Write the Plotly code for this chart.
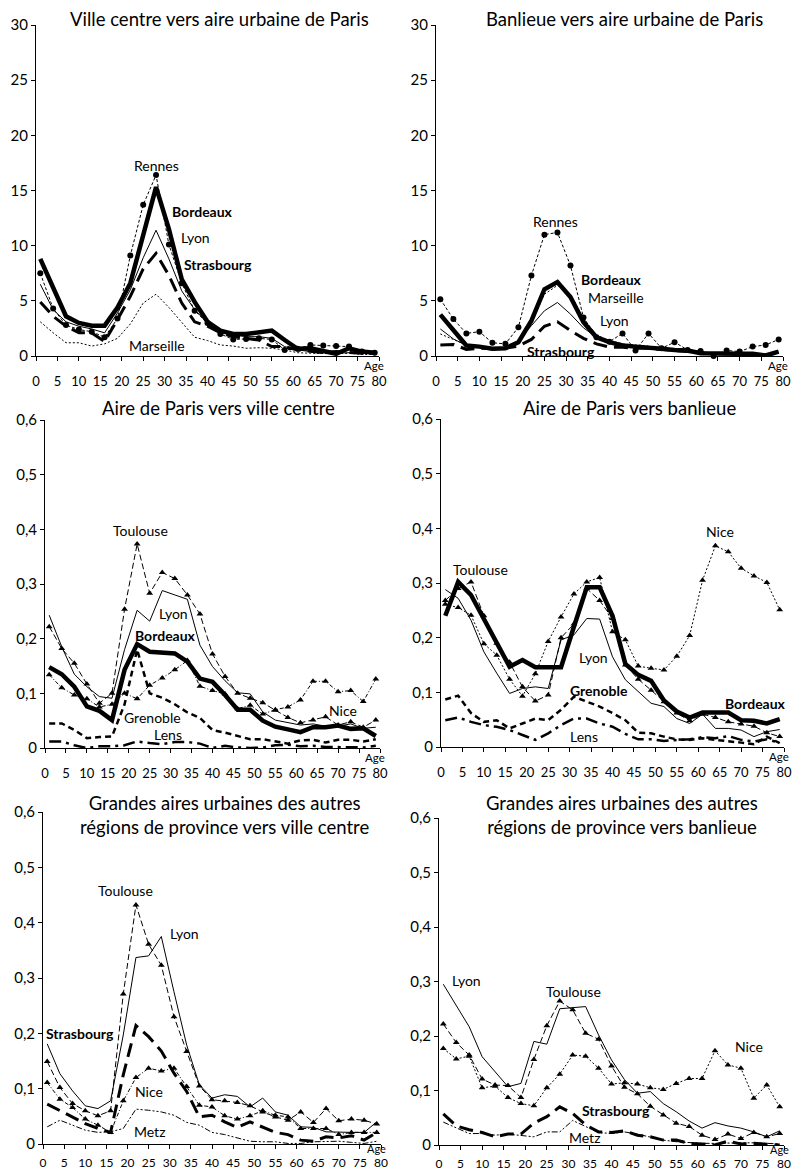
import plotly.graph_objects as go

# ---------------- data ----------------
ages = [1, 4, 7, 10, 13, 16, 19, 22, 25, 28, 31, 34, 37, 40, 43, 46, 49, 52, 55, 58, 61, 64, 67, 70, 73, 76, 79]
x_ticks = [0, 5, 10, 15, 20, 25, 30, 35, 40, 45, 50, 55, 60, 65, 70, 75, 80]
y_ticks_big = [0, 5, 10, 15, 20, 25, 30]
y_ticks_small = [0, 0.1, 0.2, 0.3, 0.4, 0.5, 0.6]
y_ticktext_small = ["0", "0,1", "0,2", "0,3", "0,4", "0,5", "0,6"]

# Panel 1 : Ville centre vers aire urbaine de Paris
p1_rennes = [7.5, 4.3, 2.8, 2.4, 2.2, 1.7, 3.4, 9.1, 13.7, 16.4, 10.1, 6.6, 4.1, 3.0, 2.0, 1.5, 1.55, 1.6, 1.5, 0.55, 0.65, 1.0, 0.95, 0.9, 0.85, 0.4, 0.3]
p1_bordeaux = [8.8, 6.2, 3.6, 3.0, 2.75, 2.75, 4.4, 6.6, 10.8, 15.3, 11.5, 6.95, 4.9, 3.1, 2.3, 2.0, 2.0, 2.15, 2.3, 1.45, 0.65, 0.7, 0.4, 0.2, 0.7, 0.4, 0.3]
p1_lyon = [6.5, 4.2, 3.1, 2.7, 2.45, 2.1, 3.9, 6.0, 8.9, 11.4, 8.8, 5.9, 4.2, 3.0, 2.1, 1.9, 1.75, 1.75, 1.6, 0.85, 0.55, 0.4, 0.3, 0.25, 0.3, 0.25, 0.2]
p1_strasbourg = [4.9, 3.6, 2.7, 2.1, 2.1, 1.3, 3.3, 5.4, 7.9, 9.3, 7.3, 4.8, 3.1, 2.7, 2.1, 1.75, 1.6, 1.45, 0.85, 0.85, 0.55, 0.4, 0.3, 0.4, 0.3, 0.25, 0.25]
p1_marseille = [3.1, 2.1, 1.2, 1.2, 0.9, 1.1, 1.6, 2.9, 4.8, 5.6, 4.4, 3.0, 1.7, 1.4, 1.0, 0.9, 0.7, 0.75, 0.7, 0.55, 0.3, 0.25, 0.2, 0.2, 0.25, 0.15, 0.15]

# Panel 2 : Banlieue vers aire urbaine de Paris
p2_rennes = [5.15, 3.35, 2.05, 2.2, 1.2, 1.1, 2.6, 7.3, 11.0, 11.2, 8.2, 3.5, 1.7, 1.3, 2.05, 0.5, 2.05, 0.7, 1.25, 0.55, 0.45, 0.0, 0.5, 0.4, 0.85, 1.0, 1.5]
p2_bordeaux = [3.75, 2.3, 0.95, 0.85, 0.65, 0.7, 1.25, 3.2, 6.05, 6.7, 5.35, 3.05, 1.7, 1.25, 0.95, 0.85, 0.8, 0.65, 0.55, 0.5, 0.25, 0.2, 0.2, 0.2, 0.2, 0.05, 0.4]
p2_marseille = [2.0, 1.5, 1.0, 0.8, 0.7, 0.8, 1.3, 3.0, 5.6, 6.4, 5.6, 3.4, 1.9, 1.4, 1.1, 1.0, 0.9, 0.7, 0.6, 0.5, 0.3, 0.3, 0.3, 0.2, 0.2, 0.2, 0.3]
p2_lyon = [2.45, 1.55, 0.95, 0.8, 0.65, 0.8, 1.4, 2.75, 4.1, 4.85, 3.8, 2.55, 1.7, 1.25, 0.95, 0.8, 0.7, 0.55, 0.5, 0.35, 0.25, 0.2, 0.25, 0.2, 0.2, 0.1, 0.25]
p2_strasbourg = [1.0, 1.05, 0.6, 0.7, 0.65, 0.7, 0.9, 1.5, 2.7, 3.1, 2.3, 1.6, 1.1, 0.8, 0.8, 0.7, 0.7, 0.6, 0.5, 0.4, 0.3, 0.2, 0.2, 0.2, 0.2, 0.1, 0.3]

# Panel 3 : Aire de Paris vers ville centre
p3_toulouse = [0.222, 0.182, 0.155, 0.117, 0.082, 0.100, 0.254, 0.373, 0.283, 0.321, 0.310, 0.280, 0.245, 0.172, 0.131, 0.100, 0.091, 0.083, 0.069, 0.056, 0.046, 0.051, 0.057, 0.042, 0.048, 0.038, 0.051]
p3_nice = [0.134, 0.110, 0.097, 0.090, 0.075, 0.080, 0.100, 0.090, 0.115, 0.128, 0.143, 0.160, 0.113, 0.105, 0.099, 0.072, 0.078, 0.062, 0.070, 0.075, 0.088, 0.122, 0.122, 0.103, 0.105, 0.085, 0.126]
p3_lyon = [0.243, 0.185, 0.135, 0.112, 0.094, 0.091, 0.180, 0.252, 0.232, 0.288, 0.280, 0.272, 0.188, 0.149, 0.123, 0.101, 0.099, 0.066, 0.051, 0.046, 0.042, 0.044, 0.040, 0.040, 0.044, 0.036, 0.038]
p3_bordeaux = [0.148, 0.135, 0.112, 0.076, 0.068, 0.051, 0.143, 0.190, 0.176, 0.174, 0.173, 0.158, 0.127, 0.121, 0.097, 0.070, 0.070, 0.050, 0.039, 0.034, 0.029, 0.038, 0.038, 0.041, 0.035, 0.036, 0.022]
p3_grenoble = [0.045, 0.045, 0.033, 0.018, 0.020, 0.021, 0.080, 0.180, 0.100, 0.092, 0.080, 0.065, 0.055, 0.033, 0.028, 0.022, 0.016, 0.016, 0.012, 0.008, 0.014, 0.015, 0.010, 0.015, 0.015, 0.012, 0.016]
p3_lens = [0.012, 0.012, 0.005, 0.0, 0.003, 0.003, 0.005, 0.012, 0.009, 0.007, 0.011, 0.011, 0.008, 0.0, 0.004, 0.001, 0.0, 0.001, 0.005, 0.006, 0.003, 0.004, 0.002, 0.002, 0.001, 0.001, 0.004]

# Panel 4 : Aire de Paris vers banlieue
p4_toulouse = [0.268, 0.290, 0.302, 0.240, 0.190, 0.155, 0.110, 0.084, 0.095, 0.200, 0.225, 0.290, 0.268, 0.235, 0.150, 0.124, 0.104, 0.083, 0.062, 0.048, 0.060, 0.054, 0.046, 0.042, 0.038, 0.026, 0.019]
p4_nice = [0.261, 0.255, 0.241, 0.189, 0.168, 0.124, 0.093, 0.134, 0.193, 0.238, 0.280, 0.302, 0.310, 0.211, 0.196, 0.148, 0.144, 0.141, 0.166, 0.204, 0.305, 0.368, 0.357, 0.327, 0.313, 0.301, 0.251]
p4_lyon = [0.288, 0.272, 0.232, 0.174, 0.135, 0.098, 0.107, 0.110, 0.107, 0.196, 0.205, 0.235, 0.234, 0.165, 0.123, 0.101, 0.080, 0.074, 0.052, 0.043, 0.060, 0.034, 0.034, 0.031, 0.019, 0.028, 0.032]
p4_bordeaux = [0.240, 0.302, 0.278, 0.235, 0.193, 0.147, 0.159, 0.146, 0.146, 0.146, 0.220, 0.292, 0.292, 0.240, 0.152, 0.132, 0.121, 0.085, 0.065, 0.054, 0.063, 0.063, 0.063, 0.049, 0.048, 0.043, 0.051]
p4_grenoble = [0.087, 0.094, 0.062, 0.046, 0.049, 0.034, 0.043, 0.052, 0.049, 0.068, 0.092, 0.083, 0.074, 0.062, 0.049, 0.026, 0.025, 0.019, 0.014, 0.013, 0.016, 0.013, 0.011, 0.008, 0.005, 0.019, 0.007]
p4_lens = [0.049, 0.054, 0.046, 0.040, 0.037, 0.031, 0.022, 0.013, 0.025, 0.040, 0.052, 0.052, 0.043, 0.037, 0.024, 0.014, 0.014, 0.011, 0.013, 0.014, 0.018, 0.016, 0.020, 0.013, 0.010, 0.014, 0.008]

# Panel 5 : Grandes aires urbaines des autres régions de province vers ville centre
p5_toulouse = [0.149, 0.102, 0.073, 0.060, 0.051, 0.060, 0.271, 0.432, 0.361, 0.323, 0.230, 0.167, 0.105, 0.080, 0.078, 0.075, 0.069, 0.058, 0.049, 0.043, 0.058, 0.039, 0.064, 0.042, 0.045, 0.043, 0.036]
p5_nice = [0.111, 0.081, 0.066, 0.045, 0.034, 0.021, 0.078, 0.120, 0.137, 0.132, 0.137, 0.104, 0.070, 0.067, 0.051, 0.045, 0.051, 0.060, 0.052, 0.049, 0.028, 0.028, 0.028, 0.017, 0.021, 0.021, 0.021]
p5_lyon = [0.181, 0.127, 0.096, 0.069, 0.064, 0.078, 0.197, 0.337, 0.340, 0.375, 0.275, 0.179, 0.107, 0.083, 0.089, 0.086, 0.067, 0.083, 0.058, 0.052, 0.031, 0.030, 0.022, 0.021, 0.021, 0.021, 0.040]
p5_strasbourg = [0.072, 0.060, 0.048, 0.037, 0.028, 0.021, 0.125, 0.214, 0.194, 0.168, 0.128, 0.095, 0.049, 0.052, 0.040, 0.030, 0.040, 0.030, 0.021, 0.017, 0.007, 0.005, 0.013, 0.011, 0.015, 0.007, 0.021]
p5_metz = [0.031, 0.043, 0.034, 0.025, 0.021, 0.022, 0.028, 0.063, 0.061, 0.058, 0.052, 0.039, 0.034, 0.021, 0.017, 0.011, 0.005, 0.004, 0.004, 0.001, 0.001, 0.004, 0.004, 0.005, 0.003, 0.001, 0.005]

# Panel 6 : Grandes aires urbaines des autres régions de province vers banlieue
p6_lyon = [0.295, 0.257, 0.217, 0.162, 0.135, 0.107, 0.113, 0.190, 0.185, 0.250, 0.252, 0.254, 0.202, 0.156, 0.120, 0.095, 0.098, 0.076, 0.061, 0.044, 0.031, 0.041, 0.035, 0.031, 0.024, 0.015, 0.026]
p6_toulouse = [0.222, 0.188, 0.165, 0.121, 0.110, 0.109, 0.087, 0.157, 0.219, 0.264, 0.248, 0.205, 0.194, 0.145, 0.106, 0.094, 0.071, 0.055, 0.040, 0.034, 0.018, 0.010, 0.020, 0.012, 0.023, 0.015, 0.021]
p6_nice = [0.177, 0.158, 0.163, 0.105, 0.108, 0.087, 0.076, 0.072, 0.105, 0.130, 0.165, 0.163, 0.141, 0.112, 0.114, 0.112, 0.105, 0.102, 0.113, 0.122, 0.122, 0.173, 0.147, 0.141, 0.086, 0.110, 0.070]
p6_strasbourg = [0.057, 0.035, 0.028, 0.023, 0.015, 0.020, 0.020, 0.040, 0.052, 0.070, 0.058, 0.037, 0.024, 0.023, 0.026, 0.018, 0.015, 0.009, 0.009, 0.003, 0.002, 0.000, 0.007, 0.002, 0.003, 0.001, 0.000]
p6_metz = [0.042, 0.031, 0.021, 0.021, 0.018, 0.020, 0.018, 0.015, 0.024, 0.024, 0.045, 0.034, 0.023, 0.021, 0.024, 0.020, 0.015, 0.009, 0.006, 0.004, 0.003, 0.003, 0.004, 0.004, 0.004, 0.003, 0.002]

titles = [
    "Ville centre vers aire urbaine de Paris",
    "Banlieue vers aire urbaine de Paris",
    "Aire de Paris vers ville centre",
    "Aire de Paris vers banlieue",
    "Grandes aires urbaines des autres<br>régions de province vers ville centre",
    "Grandes aires urbaines des autres<br>régions de province vers banlieue",
]

panels = [
    [("Rennes", p1_rennes), ("Marseille", p1_marseille), ("Lyon", p1_lyon), ("Strasbourg", p1_strasbourg), ("Bordeaux", p1_bordeaux)],
    [("Rennes", p2_rennes), ("Marseille", p2_marseille), ("Lyon", p2_lyon), ("Strasbourg", p2_strasbourg), ("Bordeaux", p2_bordeaux)],
    [("Toulouse", p3_toulouse), ("Nice", p3_nice), ("Lyon", p3_lyon), ("Grenoble", p3_grenoble), ("Lens", p3_lens), ("Bordeaux", p3_bordeaux)],
    [("Toulouse", p4_toulouse), ("Nice", p4_nice), ("Lyon", p4_lyon), ("Grenoble", p4_grenoble), ("Lens", p4_lens), ("Bordeaux", p4_bordeaux)],
    [("Toulouse", p5_toulouse), ("Nice", p5_nice), ("Lyon", p5_lyon), ("Metz", p5_metz), ("Strasbourg", p5_strasbourg)],
    [("Toulouse", p6_toulouse), ("Nice", p6_nice), ("Lyon", p6_lyon), ("Metz", p6_metz), ("Strasbourg", p6_strasbourg)],
]

# ---------------- styles ----------------
styles = {
    "Bordeaux": dict(width=4.5, dash="solid", symbol=None),
    "Lyon": dict(width=1, dash="solid", symbol=None),
    "Rennes": dict(width=1, dash="3px,2px", symbol="circle"),
    "Strasbourg": dict(width=3, dash="14px,7px", symbol=None),
    "Marseille": dict(width=1, dash="2px,2px", symbol=None),
    "Toulouse": dict(width=1, dash="6px,3px", symbol="triangle-up"),
    "Nice": dict(width=1, dash="4px,2px,1px,2px", symbol="triangle-up"),
    "Grenoble": dict(width=2.5, dash="6px,4px", symbol=None),
    "Lens": dict(width=2.5, dash="12px,5px,3px,5px", symbol=None),
    "Metz": dict(width=1, dash="6px,2px,2px,2px,2px,2px", symbol=None),
}
# Nice is drawn dotted in the two "vers banlieue" panels
dotted_nice_panels = {3, 5}

W, H = 796, 1172
# pixel boxes of each plot area: (left, right, top, bottom)
boxes = [
    (36, 379, 25, 356),
    (436, 783, 25, 356),
    (45, 380, 420, 748),
    (441, 784, 419, 747),
    (43, 381, 812, 1144),
    (439, 784, 818, 1145),
]
title_pos = [(220, 19), (624, 19), (218, 408), (629, 408), (225, 815), (622, 815)]

FONT = "Lato"
fig = go.Figure()

for i, series in enumerate(panels):
    n = i + 1
    xa = "x" if n == 1 else f"x{n}"
    ya = "y" if n == 1 else f"y{n}"
    for name, vals in series:
        st = styles[name]
        dash = st["dash"]
        if name == "Nice" and i in dotted_nice_panels:
            dash = "2px,2px"
        mode = "lines+markers" if st["symbol"] else "lines"
        fig.add_trace(go.Scatter(
            x=ages, y=vals, mode=mode, name=name, xaxis=xa, yaxis=ya,
            line=dict(color="black", width=st["width"], dash=dash),
            marker=dict(symbol=st["symbol"] or "circle", size=6, color="black"),
            showlegend=False, cliponaxis=False,
        ))
    l, r, t, b = boxes[i]
    big = i < 2
    bottom_row = i >= 4
    fig.layout[f"xaxis{'' if n == 1 else n}"] = dict(
        domain=[l / W, r / W], anchor=ya, range=[0, 80], automargin=False,
        tickvals=x_ticks, ticktext=[str(v) for v in x_ticks],
        showline=True, linecolor="black", linewidth=1, ticks="outside", ticklen=4,
        tickcolor="black", showgrid=False, zeroline=False,
        tickfont=dict(family=FONT, size=12 if bottom_row else 13, color="black"),
        ticklabelstandoff=4 if bottom_row else 9,
    )
    fig.layout[f"yaxis{'' if n == 1 else n}"] = dict(
        domain=[1 - b / H, 1 - t / H], anchor=xa, automargin=False,
        range=[0, 30] if big else [0, 0.6],
        tickvals=y_ticks_big if big else y_ticks_small,
        ticktext=[str(v) for v in y_ticks_big] if big else y_ticktext_small,
        showline=True, linecolor="black", linewidth=1, ticks="outside", ticklen=4,
        tickcolor="black", showgrid=False, zeroline=False,
        tickfont=dict(family=FONT, size=15, color="black"),
    )

annotations = []
for i, (tx, ty) in enumerate(title_pos):
    annotations.append(dict(text=titles[i], x=tx / W, y=1 - ty / H, xref="paper", yref="paper",
                            showarrow=False, xanchor="center", yanchor="middle",
                            font=dict(family=FONT, size=18.5, color="black")))

# series labels: (panel, text, x age, y value, bold)
labels = [
    (1, "Rennes", 28.2, 17.3, False), (1, "Bordeaux", 38.9, 13.1, True), (1, "Lyon", 37.1, 10.7, False),
    (1, "Strasbourg", 42.5, 8.3, True), (1, "Marseille", 28.3, 0.93, False),
    (2, "Rennes", 27.5, 12.2, False), (2, "Bordeaux", 40.4, 6.95, True), (2, "Marseille", 41.5, 5.3, False),
    (2, "Lyon", 41.1, 3.2, False), (2, "Strasbourg", 28.8, 0.45, True),
    (3, "Toulouse", 22.8, 0.397, False), (3, "Lyon", 30.8, 0.246, False), (3, "Bordeaux", 28.7, 0.205, True),
    (3, "Grenoble", 25.7, 0.056, False), (3, "Lens", 29.4, 0.024, False), (3, "Nice", 71.2, 0.068, False),
    (4, "Nice", 65.1, 0.394, False), (4, "Toulouse", 9.3, 0.325, False), (4, "Lyon", 35.5, 0.164, False),
    (4, "Grenoble", 36.8, 0.103, True), (4, "Bordeaux", 73.3, 0.080, True), (4, "Lens", 33.4, 0.019, False),
    (5, "Toulouse", 19.6, 0.459, False), (5, "Lyon", 33.6, 0.380, False), (5, "Strasbourg", 8.8, 0.200, True),
    (5, "Nice", 25.2, 0.095, False), (5, "Metz", 25.2, 0.022, False),
    (6, "Lyon", 6.3, 0.301, False), (6, "Toulouse", 31.1, 0.281, False), (6, "Nice", 71.8, 0.180, False),
    (6, "Strasbourg", 41.0, 0.063, True), (6, "Metz", 33.7, 0.013, False),
]
for n, txt, ax_, ay_, bold in labels:
    xr = "x" if n == 1 else f"x{n}"
    yr = "y" if n == 1 else f"y{n}"
    annotations.append(dict(text=f"<b>{txt}</b>" if bold else txt, x=ax_, y=ay_, xref=xr, yref=yr,
                            showarrow=False, xanchor="center", yanchor="middle",
                            font=dict(family=FONT, size=14, color="black")))

for i in range(6):
    l, r, t, b = boxes[i]
    dy = 4 if i >= 4 else 9
    annotations.append(dict(text="Age", x=(r - 5) / W, y=1 - (b + dy) / H, xref="paper", yref="paper",
                            showarrow=False, xanchor="center", yanchor="middle",
                            font=dict(family=FONT, size=11 if i >= 4 else 11.5, color="black")))

fig.update_layout(
    width=W, height=H, margin=dict(l=0, r=0, t=0, b=0, pad=0), autosize=False,
    paper_bgcolor="white", plot_bgcolor="white",
    annotations=annotations, showlegend=False,
    font=dict(family=FONT, color="black"),
)

fig.write_html(
    "out.html",
    config={"displayModeBar": False},
    post_script="document.body.style.margin='0';document.body.style.padding='0';",
)
